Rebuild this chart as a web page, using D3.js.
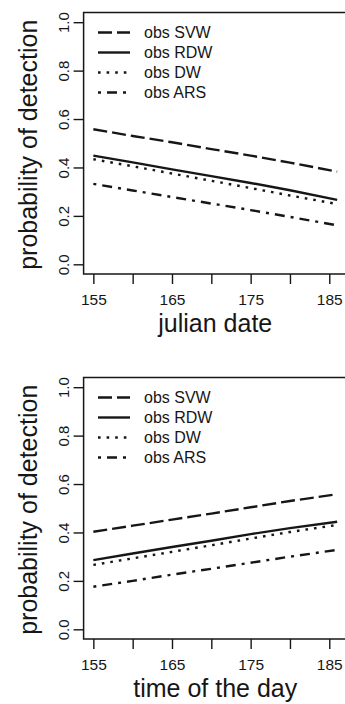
<!DOCTYPE html>
<html>
<head>
<meta charset="utf-8">
<script src="https://cdn.jsdelivr.net/npm/d3@7"></script>
<style>
  html, body { margin: 0; padding: 0; background: #fff; }
  svg { display: block; overflow: hidden; }
  text { font-family: "Liberation Sans", Arial, sans-serif; fill: #161616; }
</style>
</head>
<body>
<div id="chart"></div>
<script>
// values, one point every 5 days plus the last day
const days = [155, 160, 165, 170, 175, 180, 186];
const yTicks = [0, 0.2, 0.4, 0.6, 0.8, 1.0];
const xTicks = [155, 160, 165, 170, 175, 180, 185];
const xTickLabels = ['155', '', '165', '', '175', '', '185'];

const seriesNames = ['obs SVW', 'obs RDW', 'obs DW', 'obs ARS'];

// panel 1: julian date
const svwDate = [0.558, 0.530, 0.504, 0.476, 0.449, 0.420, 0.383];
const rdwDate = [0.449, 0.421, 0.392, 0.364, 0.336, 0.306, 0.266];
const dwDate  = [0.434, 0.405, 0.375, 0.345, 0.315, 0.284, 0.249];
const arsDate = [0.332, 0.305, 0.278, 0.251, 0.224, 0.196, 0.161];

// panel 2: time of the day
const svwTime = [0.403, 0.428, 0.453, 0.478, 0.504, 0.530, 0.558];
const rdwTime = [0.286, 0.313, 0.340, 0.366, 0.393, 0.418, 0.444];
const dwTime  = [0.266, 0.293, 0.320, 0.347, 0.375, 0.402, 0.431];
const arsTime = [0.176, 0.200, 0.226, 0.250, 0.275, 0.300, 0.328];

const dashes = ['14,5', null, '2.6,6', '3,6,10,6'];

const panels = [
  { title: 'julian date', series: [svwDate, rdwDate, dwDate, arsDate] },
  { title: 'time of the day', series: [svwTime, rdwTime, dwTime, arsTime] }
];

const width = 345, height = 704;
const box = { left: 83.6, right: 346.9, top: 12.5, bottom: 274 };
const panelStep = 365;
const ink = '#161616';

const svg = d3.select('#chart')
  .append('svg')
  .attr('width', width)
  .attr('height', height);

// R style 4% padding on both axes
const ext = d3.extent(days);
const pad = (ext[1] - ext[0]) * 0.04;
const x = d3.scaleLinear()
  .domain([ext[0] - pad, ext[1] + pad])
  .range([box.left, box.right]);
const y = d3.scaleLinear()
  .domain([-0.04, 1.04])
  .range([box.bottom, box.top]);

const line = d3.line()
  .x((d, i) => x(days[i]))
  .y(d => y(d));

panels.forEach((p, k) => {
  const g = svg.append('g')
    .attr('transform', 'translate(0,' + (k * panelStep) + ')');

  // x axis (R skips every other label where they would crowd)
  const xa = g.append('g')
    .attr('transform', 'translate(0,' + box.bottom + ')')
    .call(d3.axisBottom(x).tickValues(xTicks)
      .tickFormat((d, i) => xTickLabels[i])
      .tickSize(10).tickSizeOuter(0).tickPadding(10.4));
  xa.select('.domain').remove();
  xa.selectAll('line').attr('stroke', ink).attr('stroke-width', 1.4);
  xa.selectAll('text').style('font-size', '15.5px').attr('fill', ink);

  // y axis, labels parallel to the axis
  const ya = g.append('g')
    .attr('transform', 'translate(' + box.left + ',0)')
    .call(d3.axisLeft(y).tickValues(yTicks).tickFormat(d3.format('.1f'))
      .tickSize(10).tickSizeOuter(0));
  ya.select('.domain').remove();
  ya.selectAll('line').attr('stroke', ink).attr('stroke-width', 1.4);
  ya.selectAll('text')
    .attr('x', null).attr('dy', null)
    .attr('text-anchor', 'middle')
    .attr('transform', 'translate(-14.6,0) rotate(-90)')
    .style('font-size', '15px').attr('fill', ink);

  // plot box
  g.append('rect')
    .attr('x', box.left).attr('y', box.top)
    .attr('width', box.right - box.left)
    .attr('height', box.bottom - box.top)
    .attr('fill', 'none')
    .attr('stroke', ink)
    .attr('stroke-width', 1.5);

  // lines
  g.selectAll('path.series')
    .data(p.series)
    .enter()
    .append('path')
    .attr('class', 'series')
    .attr('d', line)
    .attr('fill', 'none')
    .attr('stroke', ink)
    .attr('stroke-width', 2.4)
    .attr('stroke-dasharray', (d, i) => dashes[i]);

  // legend
  const lg = g.append('g');
  seriesNames.forEach((name, i) => {
    const ry = 32.5 + i * 20;
    lg.append('line')
      .attr('x1', 98).attr('x2', 130)
      .attr('y1', ry).attr('y2', ry)
      .attr('stroke', ink)
      .attr('stroke-width', 2.4)
      .attr('stroke-dasharray', dashes[i]);
    lg.append('text')
      .attr('x', 144).attr('y', ry + 5.8)
      .style('font-size', '16px')
      .text(name);
  });

  // axis titles
  g.append('text')
    .attr('x', (box.left + box.right) / 2)
    .attr('y', 332)
    .attr('text-anchor', 'middle')
    .style('font-size', '25px')
    .text(p.title);

  g.append('text')
    .attr('transform', 'translate(36.5,' + ((box.top + box.bottom) / 2 + 1.5) + ') rotate(-90)')
    .attr('text-anchor', 'middle')
    .style('font-size', '25px')
    .text('probability of detection');
});
</script>
</body>
</html>
